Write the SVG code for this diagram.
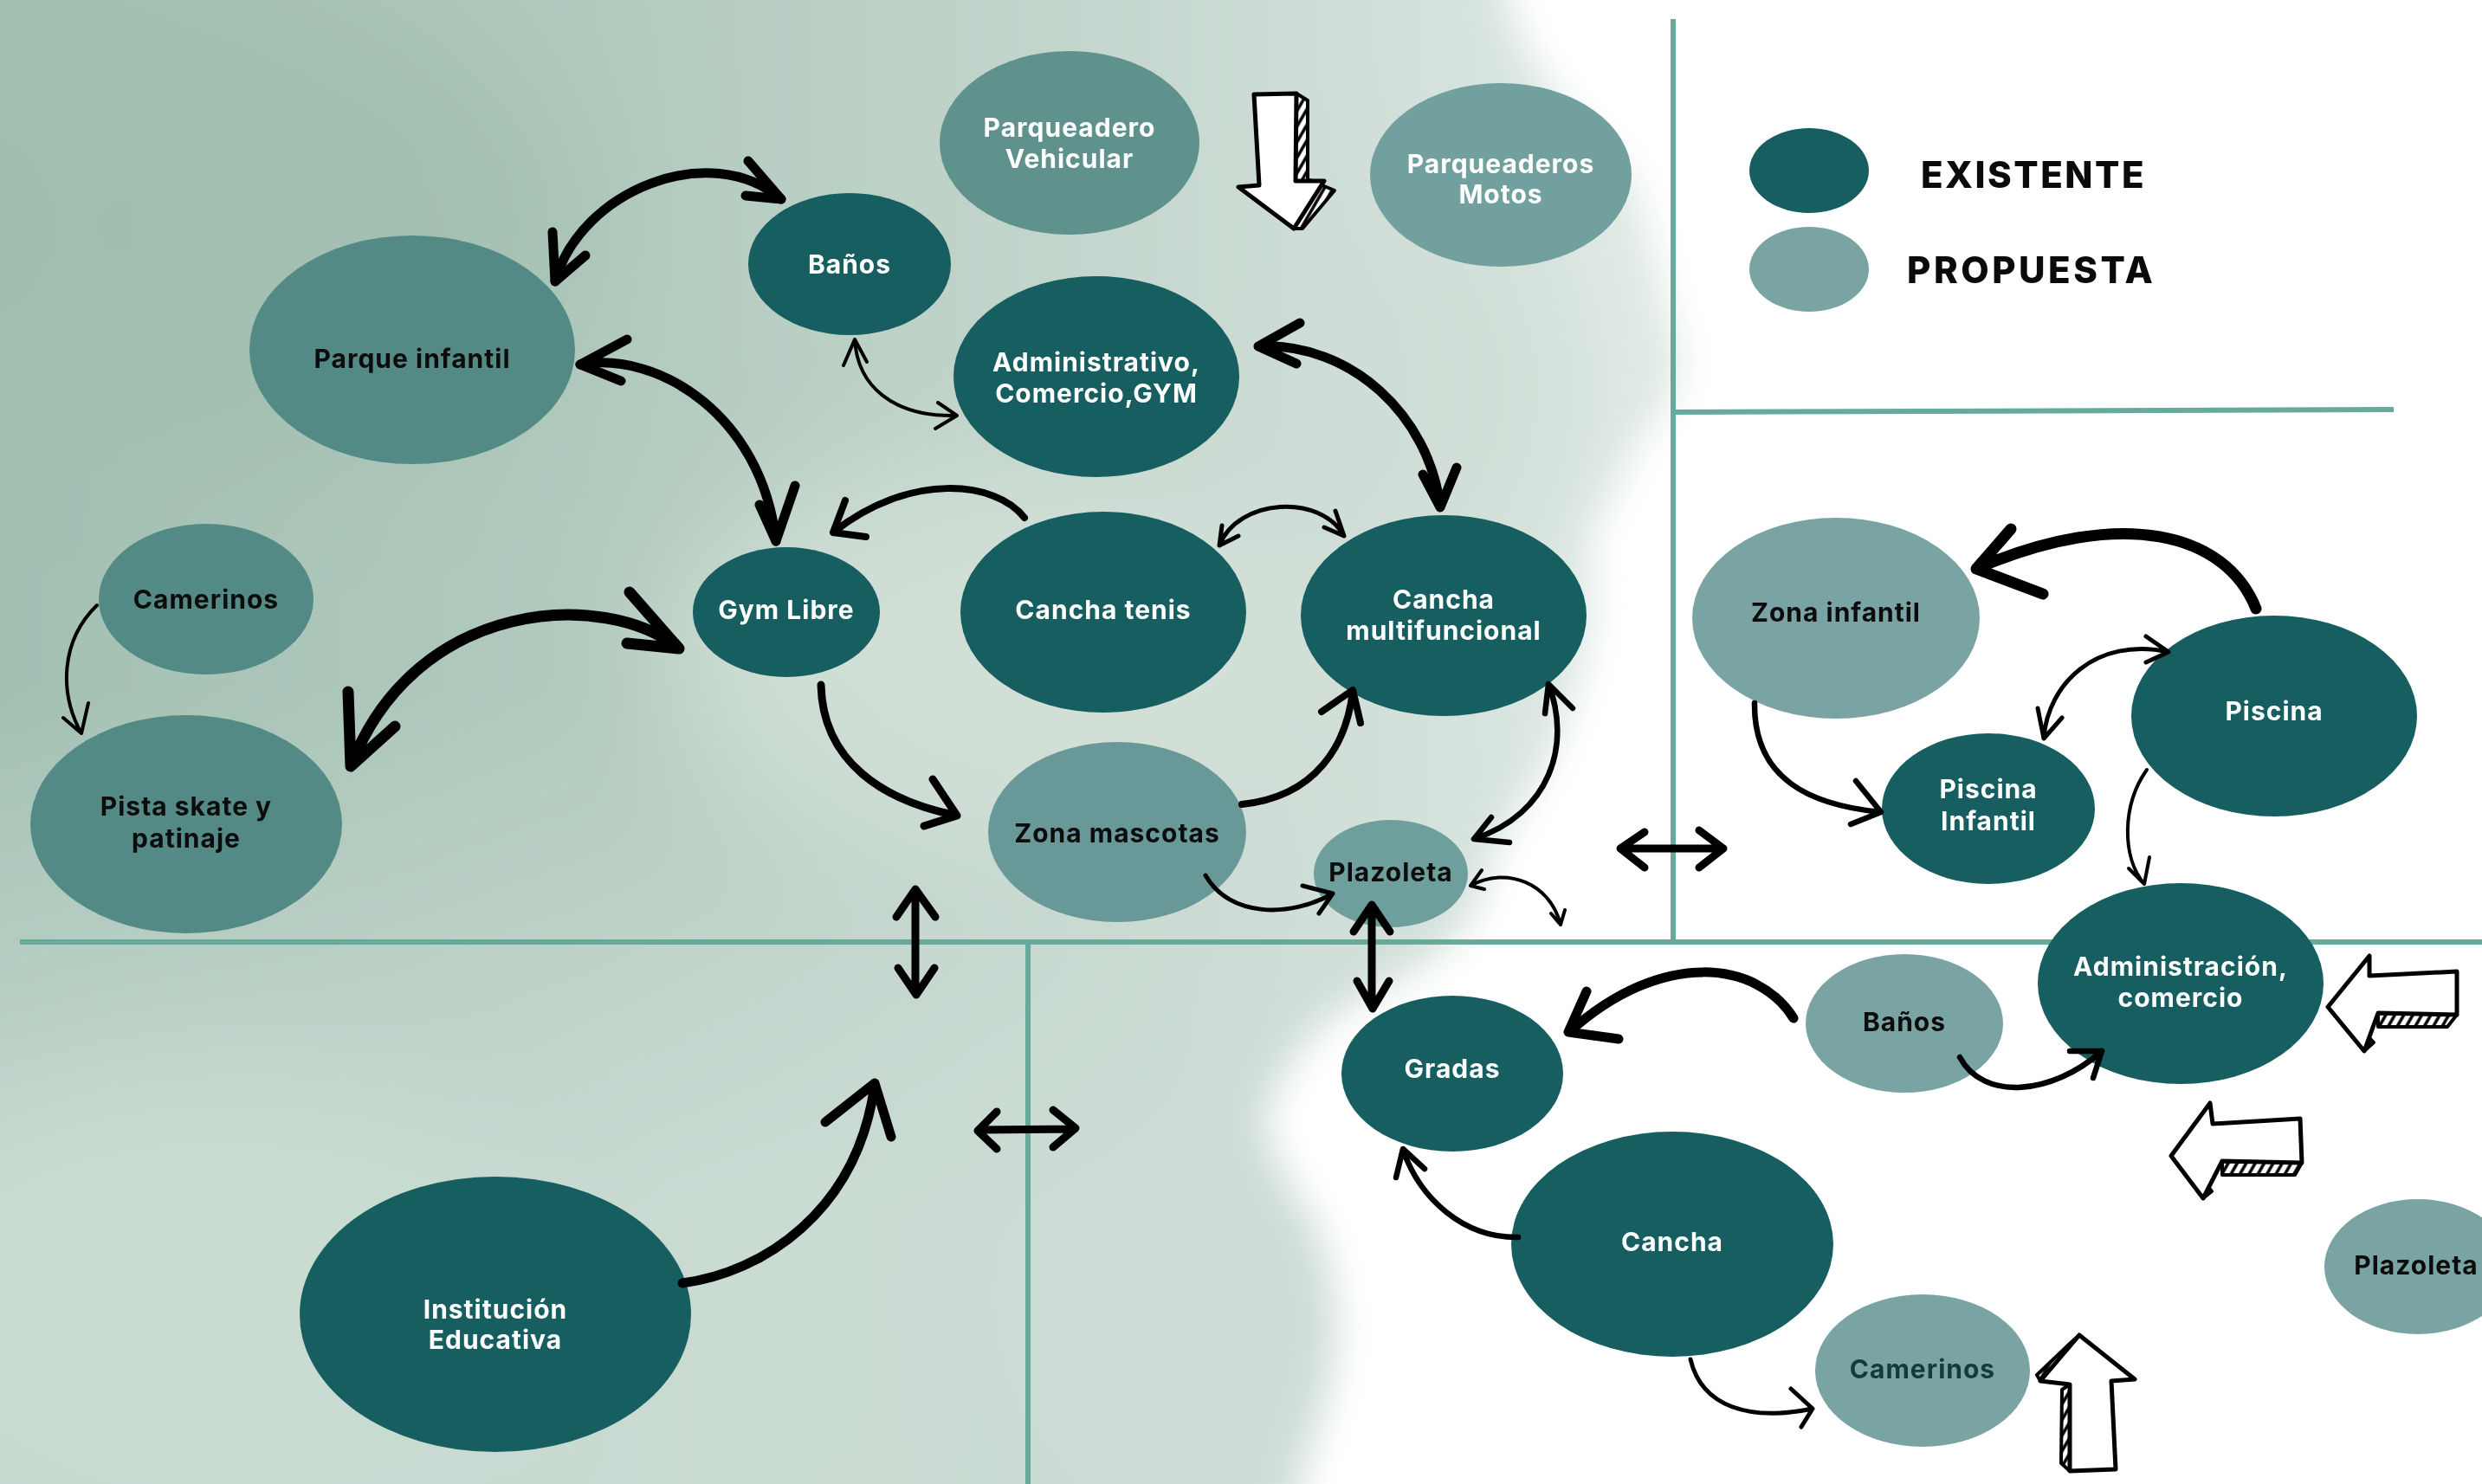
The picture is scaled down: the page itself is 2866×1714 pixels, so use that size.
<svg xmlns="http://www.w3.org/2000/svg" width="2866" height="1714" viewBox="0 0 2866 1714">
<defs>
<style>
.lbl{font-family:Inter,"Liberation Sans",sans-serif;font-weight:700;font-size:30px;letter-spacing:1px;text-anchor:middle}
.leg{font-family:Inter,"Liberation Sans",sans-serif;font-weight:800;font-size:42px;fill:#0a0a0a}
.w{fill:#ffffff}
.b{fill:#0c0c0c}
.ex{fill:#165e5f}
.pr{fill:#7aa4a4}
.ln{stroke:#67a99a;stroke-width:6;fill:none}
.c{fill:none;stroke:#000;stroke-linecap:round;stroke-linejoin:round}
.s4{stroke-width:4}
.s5{stroke-width:5}
.s6{stroke-width:6.5}
.s8{stroke-width:8}
.s9{stroke-width:9}
.s11{stroke-width:11}
.s13{stroke-width:13}
.blk{fill:#fff;stroke:#000;stroke-width:5;stroke-linejoin:round}
.hat{fill:url(#hatch);stroke:#000;stroke-width:4;stroke-linejoin:round}
</style>
<linearGradient id="bgG" gradientUnits="userSpaceOnUse" x1="0" y1="0" x2="1950" y2="0">
<stop offset="0" stop-color="#a3c0b3"/>
<stop offset="0.35" stop-color="#b2cabe"/>
<stop offset="0.65" stop-color="#c4d6cd"/>
<stop offset="0.87" stop-color="#d6e3dd"/>
<stop offset="1" stop-color="#e6eee9"/>
</linearGradient>
<linearGradient id="lowG" gradientUnits="userSpaceOnUse" x1="0" y1="800" x2="0" y2="1400">
<stop offset="0" stop-color="#d3e1da" stop-opacity="0"/>
<stop offset="1" stop-color="#d0dfd7" stop-opacity="0.75"/>
</linearGradient>
<filter id="blur" x="-20%" y="-20%" width="140%" height="140%"><feGaussianBlur stdDeviation="22"/></filter>
<filter id="blur2" x="-50%" y="-50%" width="200%" height="200%"><feGaussianBlur stdDeviation="70"/></filter>
<clipPath id="bgClip"><path d="M-100,-100 L1740,-100 L1740,0 C1760,60 1790,120 1880,200 C1910,270 1920,340 1945,420 C1930,480 1890,500 1880,530 C1860,580 1835,600 1835,640 C1845,690 1840,760 1800,850 C1770,920 1730,960 1720,1000 C1705,1060 1690,1090 1600,1140 C1530,1170 1490,1210 1460,1290 C1470,1350 1500,1380 1520,1420 C1545,1480 1550,1550 1530,1620 C1510,1680 1495,1714 1490,1800 L-100,1800 Z"/></clipPath>
<pattern id="hatch" width="9" height="9" patternUnits="userSpaceOnUse" patternTransform="rotate(30)"><rect width="9" height="9" fill="#fff"/><line x1="2" y1="0" x2="2" y2="9" stroke="#000" stroke-width="3.5"/></pattern>
</defs>

<rect width="2866" height="1714" fill="#ffffff"/>
<g id="background" filter="url(#blur)">
<g clip-path="url(#bgClip)">
<rect x="-100" y="-100" width="2100" height="1900" fill="url(#bgG)"/>
<rect x="-100" y="700" width="2100" height="1100" fill="url(#lowG)"/>
<g filter="url(#blur2)">
<ellipse cx="300" cy="260" rx="380" ry="260" fill="#a0bdaf" opacity="0.7"/>
<ellipse cx="1150" cy="760" rx="380" ry="220" fill="#d4e2da" opacity="0.8"/>
<ellipse cx="230" cy="1500" rx="380" ry="260" fill="#cadcd2" opacity="0.9"/>
<ellipse cx="1300" cy="1500" rx="200" ry="200" fill="#cddcd4" opacity="0.7"/>
<ellipse cx="1650" cy="450" rx="200" ry="200" fill="#ccdcd4" opacity="0.6"/>
</g>
</g>
</g>

<g id="dividers">
<line class="ln" x1="23" y1="1088" x2="2866" y2="1088"/>
<line class="ln" x1="1932" y1="22" x2="1932" y2="1088"/>
<line class="ln" x1="1932" y1="476" x2="2764" y2="473"/>
<line class="ln" x1="1187" y1="1088" x2="1187" y2="1714"/>
</g>

<g id="legend">
<ellipse class="ex" cx="2089" cy="197" rx="69" ry="49"/>
<ellipse class="pr" cx="2089" cy="311" rx="69" ry="49"/>
<text class="leg" x="2218" y="217" letter-spacing="2.5">EXISTENTE</text>
<text class="leg" x="2202" y="327" letter-spacing="3.5">PROPUESTA</text>
</g>

<g id="n-parqueadero-vehicular"><ellipse cx="1235" cy="165" rx="150" ry="106" fill="#5f918d"/><text class="lbl w" x="1235" y="158">Parqueadero</text><text class="lbl w" x="1235" y="194">Vehicular</text></g>
<g id="n-parqueaderos-motos"><ellipse cx="1733" cy="202" rx="151" ry="106" fill="#71a09f"/><text class="lbl w" x="1733" y="200">Parqueaderos</text><text class="lbl w" x="1733" y="235">Motos</text></g>
<g id="n-banos-1"><ellipse class="ex" cx="981" cy="305" rx="117" ry="82"/><text class="lbl w" x="981" y="316">Baños</text></g>
<g id="n-parque-infantil"><ellipse cx="476" cy="404" rx="188" ry="132" fill="#548a85"/><text class="lbl b" x="476" y="425">Parque infantil</text></g>
<g id="n-administrativo"><ellipse class="ex" cx="1266" cy="435" rx="165" ry="116"/><text class="lbl w" x="1266" y="429">Administrativo,</text><text class="lbl w" x="1266" y="465">Comercio,GYM</text></g>
<g id="n-camerinos-1"><ellipse cx="238" cy="692" rx="124" ry="87" fill="#548a85"/><text class="lbl b" x="238" y="703">Camerinos</text></g>
<g id="n-pista-skate"><ellipse cx="215" cy="952" rx="180" ry="126" fill="#548a85"/><text class="lbl b" x="215" y="942">Pista skate y</text><text class="lbl b" x="215" y="979">patinaje</text></g>
<g id="n-gym-libre"><ellipse class="ex" cx="908" cy="707" rx="108" ry="75"/><text class="lbl w" x="908" y="715">Gym Libre</text></g>
<g id="n-cancha-tenis"><ellipse class="ex" cx="1274" cy="707" rx="165" ry="116"/><text class="lbl w" x="1274" y="715">Cancha tenis</text></g>
<g id="n-cancha-multifuncional"><ellipse class="ex" cx="1667" cy="711" rx="165" ry="116"/><text class="lbl w" x="1667" y="703">Cancha</text><text class="lbl w" x="1667" y="739">multifuncional</text></g>
<g id="n-zona-mascotas"><ellipse cx="1290" cy="961" rx="149" ry="104" fill="#699899"/><text class="lbl b" x="1290" y="973">Zona mascotas</text></g>
<g id="n-plazoleta-1"><ellipse cx="1606" cy="1009" rx="89" ry="62" fill="#6f9f9d"/><text class="lbl b" x="1606" y="1018">Plazoleta</text></g>
<g id="n-zona-infantil"><ellipse class="pr" cx="2120" cy="714" rx="166" ry="116"/><text class="lbl b" x="2120" y="718">Zona infantil</text></g>
<g id="n-piscina"><ellipse class="ex" cx="2626" cy="827" rx="165" ry="116"/><text class="lbl w" x="2626" y="832">Piscina</text></g>
<g id="n-piscina-infantil"><ellipse class="ex" cx="2296" cy="934" rx="123" ry="87"/><text class="lbl w" x="2296" y="922">Piscina</text><text class="lbl w" x="2296" y="959">Infantil</text></g>
<g id="n-administracion-comercio"><ellipse class="ex" cx="2518" cy="1136" rx="165" ry="116"/><text class="lbl w" x="2518" y="1127">Administración,</text><text class="lbl w" x="2518" y="1163">comercio</text></g>
<g id="n-banos-2"><ellipse class="pr" cx="2199" cy="1182" rx="114" ry="80"/><text class="lbl b" x="2199" y="1191">Baños</text></g>
<g id="n-gradas"><ellipse class="ex" cx="1677" cy="1240" rx="128" ry="90"/><text class="lbl w" x="1677" y="1245">Gradas</text></g>
<g id="n-cancha"><ellipse class="ex" cx="1931" cy="1437" rx="186" ry="130"/><text class="lbl w" x="1931" y="1445">Cancha</text></g>
<g id="n-camerinos-2"><ellipse class="pr" cx="2220" cy="1583" rx="124" ry="88"/><text class="lbl" x="2220" y="1592" fill="#163a3a">Camerinos</text></g>
<g id="n-plazoleta-2"><ellipse class="pr" cx="2792" cy="1463" rx="108" ry="78"/><text class="lbl b" x="2790" y="1472">Plazoleta</text></g>
<g id="n-institucion"><ellipse class="ex" cx="572" cy="1518" rx="226" ry="159"/><text class="lbl w" x="572" y="1523">Institución</text><text class="lbl w" x="572" y="1558">Educativa</text></g>

<g id="connectors">
<path class="c s11" d="M641,325 C670,220 820,160 902,230"/>
<path class="c s11" d="M638,268 L641,325 L676,295 M864,186 L902,230 L861,226"/>
<path class="c s11" d="M670,421 C760,405 880,480 896,625"/>
<path class="c s11" d="M724,392 L670,421 L717,440 M877,583 L896,625 L918,561"/>
<path class="c s4" d="M987,392 C990,445 1030,482 1105,480 M974,422 L987,392 L1001,418 M1083,465 L1105,480 L1080,495"/>
<path class="c s11" d="M1453,400 C1560,395 1650,480 1663,585 M1501,373 L1453,400 L1497,420 M1643,548 L1663,586 L1682,540"/>
<path class="c s8" d="M1183,598 C1150,555 1050,545 962,615 M976,578 L962,615 L1000,620"/>
<path class="c s5" d="M1408,630 C1430,575 1525,570 1552,619 M1411,607 L1408,630 L1430,619 M1542,590 L1552,619 L1529,609"/>
<path class="c s9" d="M948,791 C950,880 1020,925 1105,942 M1077,900 L1105,942 L1067,954"/>
<path class="c s8" d="M1434,929 C1520,920 1555,860 1562,798 M1526,822 L1562,797 L1571,835"/>
<path class="c s6" d="M1788,790 C1815,860 1790,940 1702,969 M1784,824 L1788,790 L1816,818 M1722,944 L1702,969 L1743,973"/>
<path class="c s5" d="M1392,1011 C1420,1060 1490,1060 1539,1032 M1504,1023 L1539,1032 L1523,1055"/>
<path class="c s4" d="M1698,1023 C1740,1000 1790,1020 1802,1068 M1711,1005 L1698,1023 L1714,1027 M1791,1055 L1802,1068 L1807,1051"/>
<path class="c s9" d="M1057,1028 L1057,1147 M1035,1059 L1057,1027 L1080,1059 M1037,1118 L1058,1149 L1079,1118"/>
<path class="c s9" d="M1584,1046 L1584,1163 M1563,1076 L1584,1045 L1605,1076 M1567,1133 L1585,1165 L1604,1133"/>
<path class="c s9" d="M1872,980 L1990,980 M1899,961 L1871,980 L1899,1002 M1962,959 L1990,980 L1962,1002"/>
<path class="c s11" d="M788,1482 C880,1470 990,1400 1010,1253 M953,1296 L1010,1251 L1029,1313"/>
<path class="c s9" d="M1130,1305 L1241,1304 M1151,1284 L1129,1306 L1151,1327 M1216,1282 L1242,1303 L1216,1325"/>
<path class="c s13" d="M2605,703 C2570,615 2450,585 2284,656 M2322,611 L2282,657 L2359,686"/>
<path class="c s5" d="M2504,753 C2420,735 2365,790 2360,852 M2478,735 L2504,753 L2478,765 M2353,818 L2360,853 L2381,829"/>
<path class="c s6" d="M2026,812 C2025,900 2090,930 2172,938 M2143,902 L2172,938 L2137,952"/>
<path class="c s4" d="M2479,889 C2450,930 2450,990 2476,1021 M2458,1003 L2476,1021 L2482,990"/>
<path class="c s11" d="M2071,1176 C2030,1110 1920,1095 1812,1192 M1832,1145 L1811,1192 L1869,1200"/>
<path class="c s6" d="M2263,1221 C2290,1272 2370,1265 2427,1214 M2390,1214 L2427,1214 L2417,1245"/>
<path class="c s6" d="M1753,1429 C1690,1430 1640,1385 1620,1328 M1612,1360 L1620,1327 L1645,1350"/>
<path class="c s5" d="M1952,1570 C1965,1625 2020,1642 2093,1627 M2068,1604 L2093,1627 L2080,1648"/>
<path class="c s4" d="M112,699 C70,740 68,800 94,847 M73,829 L94,847 L102,812"/>
<path class="c s13" d="M784,749 C700,680 480,690 405,885 M727,684 L784,749 L724,743 M402,799 L405,885 L456,839"/>
</g>

<g id="block-arrows">
<path class="hat" d="M1497,108 L1510,116 L1510,207 L1541,220 L1504,264 L1494,264 L1529,209 L1496,209 Z"/>
<path class="blk" d="M1448,109 L1497,108 L1496,209 L1529,209 L1494,264 L1430,216 L1454,214 Z"/>
<path class="hat" d="M2746,1170 L2837,1172 L2826,1186 L2746,1186 Z M2688,1163 L2730,1214 L2741,1204 L2700,1160 Z"/>
<path class="blk" d="M2688,1163 L2736,1104 L2736,1127 L2837,1122 L2837,1172 L2746,1170 L2730,1214 Z"/>
<path class="hat" d="M2566,1341 L2658,1343 L2650,1357 L2566,1357 Z M2507,1335 L2544,1384 L2554,1376 L2518,1330 Z"/>
<path class="blk" d="M2507,1335 L2552,1274 L2555,1298 L2656,1292 L2658,1343 L2566,1341 L2544,1384 Z"/>
<path class="hat" d="M2390,1599 L2390,1699 L2380,1690 L2381,1605 Z M2356,1595 L2401,1542 L2392,1550 L2352,1588 Z"/>
<path class="blk" d="M2401,1542 L2465,1593 L2438,1595 L2443,1697 L2390,1699 L2390,1599 L2356,1595 Z"/>
</g>
</svg>
